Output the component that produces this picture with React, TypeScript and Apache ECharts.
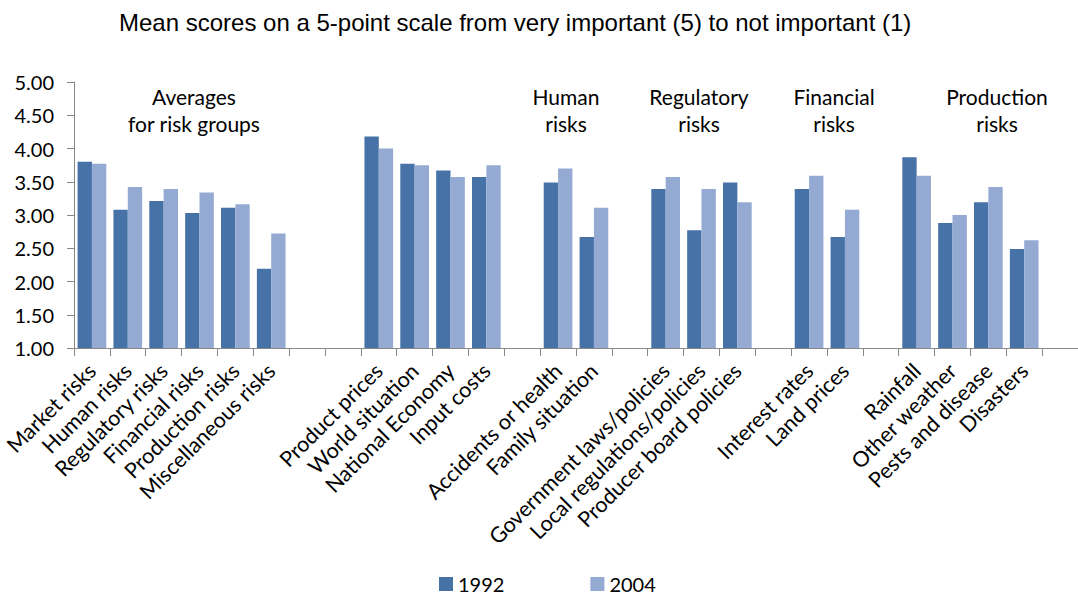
import React, { useEffect, useRef } from "react";
import * as echarts from "echarts";

const categories = [
  "Market risks", "Human risks", "Regulatory risks", "Financial risks", "Production risks", "Miscellaneous risks",
  "", "",
  "Product prices", "World situation", "National Economy", "Input costs",
  "",
  "Accidents or health", "Family situation",
  "",
  "Government laws/policies", "Local regulations/policies", "Producer board policies",
  "",
  "Interest rates", "Land prices",
  "",
  "Rainfall", "Other weather", "Pests and disease", "Disasters",
  "",
];

const values1992 = [
  3.8, 3.08, 3.21, 3.03, 3.11, 2.19,
  null, null,
  4.18, 3.77, 3.67, 3.57,
  null,
  3.49, 2.67,
  null,
  3.39, 2.77, 3.49,
  null,
  3.39, 2.67,
  null,
  3.87, 2.88, 3.19, 2.49,
  null,
];

const values2004 = [
  3.77, 3.42, 3.39, 3.34, 3.16, 2.72,
  null, null,
  4.0, 3.75, 3.57, 3.75,
  null,
  3.7, 3.11,
  null,
  3.57, 3.39, 3.19,
  null,
  3.59, 3.08,
  null,
  3.59, 3.0, 3.42, 2.62,
  null,
];

const seriesNames = ["1992", "2004"];
const yTicks = { min: 1, max: 5, interval: 0.5 };

const groupNotes = [
  { lines: ["Averages", "for risk groups"], x: 194 },
  { lines: ["Human", "risks"], x: 566 },
  { lines: ["Regulatory", "risks"], x: 699 },
  { lines: ["Financial", "risks"], x: 834 },
  { lines: ["Production", "risks"], x: 997 },
];

const FONT = "Lato";

export default function App() {
  const ref = useRef<HTMLDivElement>(null);
  useEffect(() => {
    if (!ref.current) return;
    const chart = echarts.init(ref.current, null, { renderer: "svg" });
    const graphics: any[] = [];
    groupNotes.forEach((g) => {
      g.lines.forEach((line, i) => {
        graphics.push({
          type: "text",
          x: g.x,
          y: 96 + i * 27,
          style: {
            text: line,
            fill: "#000",
            font: `21px ${FONT}`,
            textAlign: "center",
            textVerticalAlign: "middle",
          },
        });
      });
    });
    chart.setOption({
      animation: false,
      backgroundColor: "#fff",
      title: {
        text: "Mean scores on a 5-point scale from very important (5) to not important (1)",
        left: 119,
        top: 10,
        padding: 0,
        textStyle: { fontFamily: "Liberation Sans", fontSize: 24, fontWeight: "normal", color: "#000" },
      },
      legend: {
        data: seriesNames,
        left: 439,
        top: 574,
        padding: 0,
        itemWidth: 14,
        itemHeight: 14,
        itemGap: 86,
        itemTextGap: 6,
        icon: "rect",
        textStyle: { fontFamily: FONT, fontSize: 20, color: "#000", lineHeight: 14 },
      },
      grid: { left: 74, top: 82, width: 1008, height: 266, containLabel: false },
      xAxis: {
        type: "category",
        data: categories,
        axisLine: { lineStyle: { color: "#888", width: 1 } },
        axisTick: { show: true, length: 8, alignWithLabel: false, interval: 0, lineStyle: { color: "#888" } },
        axisLabel: {
          interval: 0,
          rotate: 45,
          fontFamily: FONT,
          fontSize: 21.5,
          color: "#000",
          margin: 19,
        },
      },
      yAxis: {
        type: "value",
        min: yTicks.min,
        max: yTicks.max,
        interval: yTicks.interval,
        splitLine: { show: false },
        axisLine: { show: true, lineStyle: { color: "#888" } },
        axisTick: { show: true, length: 7, lineStyle: { color: "#888" } },
        axisLabel: {
          fontFamily: FONT,
          fontSize: 20,
          color: "#000",
          margin: 20,
          formatter: (v: number) => v.toFixed(2),
        },
      },
      series: [
        {
          name: seriesNames[0],
          type: "bar",
          data: values1992,
          barGap: "0%",
          barCategoryGap: "20%",
          itemStyle: { color: "#4672A8" },
        },
        {
          name: seriesNames[1],
          type: "bar",
          data: values2004,
          barGap: "0%",
          barCategoryGap: "20%",
          itemStyle: { color: "#94AAD2" },
        },
      ],
      graphic: graphics,
    });
    return () => chart.dispose();
  }, []);
  return (
    <div
      ref={ref}
      style={{ position: "absolute", left: 0, top: 0, width: 1078, height: 596 }}
    />
  );
}
